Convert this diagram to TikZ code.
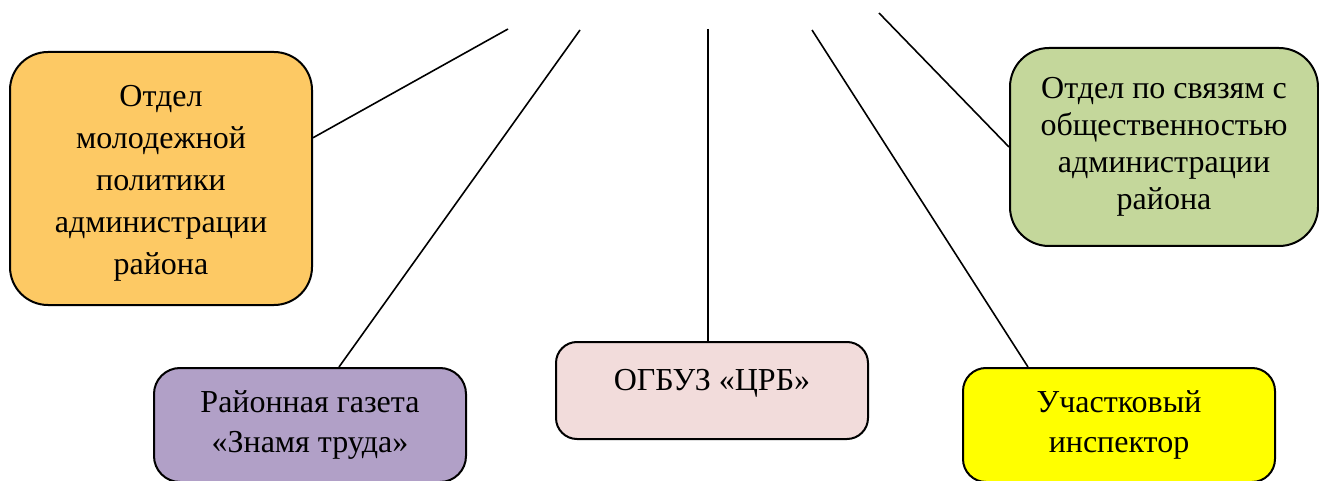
\documentclass[tikz,border=0pt]{standalone}
\usepackage{fontspec}
\setmainfont{Liberation Serif}
\definecolor{orangebox}{HTML}{FDC964}
\definecolor{purplebox}{HTML}{B1A0C7}
\definecolor{pinkbox}{HTML}{F2DCDB}
\definecolor{yellowbox}{HTML}{FFFF00}
\definecolor{greenbox}{HTML}{C4D79B}
\begin{document}
\begin{tikzpicture}[x=0.5pt, y=-0.5pt, font=\fontsize{16}{20}\selectfont]
% Define box styles
\tikzstyle{unit} = [rectangle, draw=black, line width=1pt, align=center, inner sep=0pt]
\tikzstyle{link} = [line width=0.8pt, draw=black]

\useasboundingbox (0,0) rectangle (1319,481);

% Define nodes (boxes)
\node[unit, fill=orangebox, rounded corners=19pt, minimum width=151pt, minimum height=126.5pt, font=\fontsize{16}{21}\selectfont] (YouthDept) at (161,178.5) {\rule{0pt}{15pt}Отдел\\молодежной\\политики\\администрации\\района};
\node[unit, fill=purplebox, rounded corners=13pt, minimum width=156pt, minimum height=57pt] (Newspaper) at (310,425) {Районная газета\\«Знамя труда»};
\node[unit, fill=pinkbox, rounded corners=10.5pt, minimum width=156pt, minimum height=48.5pt, text depth=11pt] (Hospital) at (712,390.5) {ОГБУЗ «ЦРБ»};
\node[unit, fill=yellowbox, rounded corners=11.5pt, minimum width=156pt, minimum height=57pt] (Inspector) at (1119,425) {Участковый\\инспектор};
\node[unit, fill=greenbox, rounded corners=19.5pt, minimum width=154pt, minimum height=99pt, font=\fontsize{16}{18.5}\selectfont] (PublicDept) at (1164,147) {Отдел по связям с\\общественностью\\администрации\\района};

% Define free ends at the top
\coordinate (TopYouth) at (508,29);
\coordinate (TopPaper) at (580,30);
\coordinate (TopHospital) at (708,29);
\coordinate (TopInspector) at (812,30);
\coordinate (TopPublic) at (879,13);

% Connectors
\draw[link] (TopYouth) -- (YouthDept.15);
\draw[link] (TopPaper) -- ([xshift=14.5pt]Newspaper.north);
\draw[link] (TopHospital) -- ([xshift=-2pt]Hospital.north);
\draw[link] (TopInspector) -- ([xshift=-45.5pt]Inspector.north);
\draw[link] (TopPublic) -- (PublicDept.west);

\end{tikzpicture}
\end{document}
